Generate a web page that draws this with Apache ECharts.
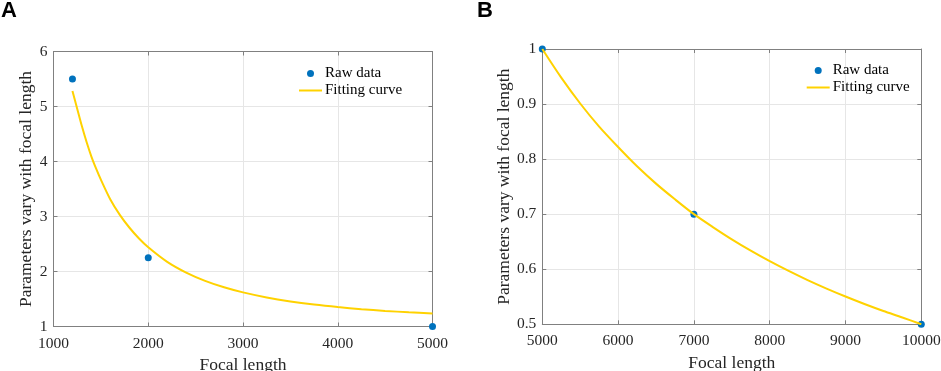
<!DOCTYPE html>
<html>
<head>
<meta charset="utf-8">
<script src="https://cdn.jsdelivr.net/npm/echarts@6/dist/echarts.min.js"></script>
<style>
html, body { margin: 0; padding: 0; background: #fff; }
#chart { width: 941px; height: 371px; }
</style>
</head>
<body>
<div id="chart"></div>
<script>
// panel A
var rawAx = [1200, 2000, 5000];
var rawAy = [5.5, 2.25, 1.0];
var fitAx = [1200, 1250, 1300, 1350, 1400, 1450, 1500, 1600, 1700, 1800, 1900, 2000, 2200, 2400, 2600, 2800, 3000, 3250, 3500, 3750, 4000, 4250, 4500, 4750, 5000];
var fitAy = [5.28, 4.96, 4.64, 4.35, 4.09, 3.87, 3.67, 3.31, 3.03, 2.80, 2.605, 2.44, 2.175, 1.98, 1.83, 1.713, 1.62, 1.528, 1.456, 1.399, 1.353, 1.315, 1.284, 1.258, 1.237];

// panel B
var rawBx = [5000, 7000, 10000];
var rawBy = [1.0, 0.7, 0.5];
var fitBx = [5000, 5250, 5500, 5750, 6000, 6250, 6500, 6750, 7000, 7250, 7500, 7750, 8000, 8250, 8500, 8750, 9000, 9250, 9500, 9750, 10000];
var fitBy = [1.0, 0.948, 0.901, 0.859, 0.822, 0.787, 0.7555, 0.727, 0.700, 0.6766, 0.6543, 0.6337, 0.6146, 0.5969, 0.5803, 0.5649, 0.5505, 0.5369, 0.5242, 0.5124, 0.500];

var xTitle = 'Focal length';
var yTitle = 'Parameters vary with focal length';

function pairs(xs, ys) {
	var out = [];
	for (var i = 0; i < xs.length; i++) {
		out.push([xs[i], ys[i]]);
	}
	return out;
}

var serif = '"Liberation Serif", "Times New Roman", serif';
var boxColor = '#808080';
var textColor = '#262626';
var blue = '#0072BD';
var yellow = '#FFD200';

function xAx(grid, pos, min, max, interval, gap) {
	var main = pos === 'bottom';
	return {
		type: 'value', gridIndex: grid, position: pos,
		min: min, max: max, interval: interval,
		name: main ? xTitle : '', nameLocation: 'middle', nameGap: gap,
		nameTextStyle: { fontFamily: serif, fontSize: 17.5, color: textColor },
		axisLine: { show: true, onZero: false, lineStyle: { color: boxColor, width: 1 } },
		axisTick: { show: true, inside: true, length: 4, lineStyle: { color: boxColor } },
		axisLabel: {
			show: main, margin: 9, fontFamily: serif, fontSize: 15.5, color: textColor,
			formatter: function (v) { return String(v); }
		},
		splitLine: { show: main, lineStyle: { color: '#e6e6e6', width: 1 } }
	};
}

function yAx(grid, pos, min, max, interval, gap) {
	var main = pos === 'left';
	return {
		type: 'value', gridIndex: grid, position: pos,
		min: min, max: max, interval: interval,
		name: main ? yTitle : '', nameLocation: 'middle', nameGap: gap, nameRotate: 90,
		nameTextStyle: { fontFamily: serif, fontSize: 17.5, color: textColor },
		axisLine: { show: true, onZero: false, lineStyle: { color: boxColor, width: 1 } },
		axisTick: { show: true, inside: true, length: 4, lineStyle: { color: boxColor } },
		axisLabel: {
			show: main, margin: 6, fontFamily: serif, fontSize: 15.5, color: textColor,
			formatter: function (v) { return String(Math.round(v * 10) / 10); }
		},
		splitLine: { show: main, lineStyle: { color: '#e6e6e6', width: 1 } }
	};
}

function legendAt(left, top) {
	return {
		left: left, top: top, orient: 'vertical',
		itemWidth: 23, itemHeight: 7, itemGap: 2,
		textStyle: { fontFamily: serif, fontSize: 15, color: '#000', lineHeight: 15, padding: [0, 0, 0, -2] },
		data: [
			{ name: 'Raw data', icon: 'circle' },
			{ name: 'Fitting curve', icon: 'path://M0,3L23,3L23,5L0,5Z' }
		],
		selectedMode: false
	};
}

var option = {
	animation: false,
	grid: [
		{ left: 53.5, top: 51.5, width: 379, height: 275, outerBoundsMode: 'none', containLabel: false },
		{ left: 542.3, top: 49, width: 379, height: 275.3, outerBoundsMode: 'none', containLabel: false }
	],
	xAxis: [
		xAx(0, 'bottom', 1000, 5000, 1000, 25.5),
		xAx(0, 'top', 1000, 5000, 1000, 0),
		xAx(1, 'bottom', 5000, 10000, 1000, 27),
		xAx(1, 'top', 5000, 10000, 1000, 0)
	],
	yAxis: [
		yAx(0, 'left', 1, 6, 1, 18),
		yAx(0, 'right', 1, 6, 1, 0),
		yAx(1, 'left', 0.5, 1, 0.1, 29),
		yAx(1, 'right', 0.5, 1, 0.1, 0)
	],
	legend: [legendAt(294, 61), legendAt(801.7, 58)],
	graphic: [
		{ type: 'text', left: 1, top: 0, style: { text: 'A', font: 'bold 22px "Liberation Sans", Arial, sans-serif', fill: '#000' } },
		{ type: 'text', left: 477, top: 0, style: { text: 'B', font: 'bold 22px "Liberation Sans", Arial, sans-serif', fill: '#000' } }
	],
	series: [
		{
			name: 'Fitting curve', type: 'line', xAxisIndex: 0, yAxisIndex: 0,
			data: pairs(fitAx, fitAy), smooth: 0.3, symbol: 'none',
			lineStyle: { color: yellow, width: 2 }, itemStyle: { color: yellow }, z: 2
		},
		{
			name: 'Raw data', type: 'scatter', xAxisIndex: 0, yAxisIndex: 0,
			data: pairs(rawAx, rawAy), symbolSize: 7,
			itemStyle: { color: blue, opacity: 1 }, z: 3
		},
		{
			name: 'Fitting curve', type: 'line', xAxisIndex: 2, yAxisIndex: 2,
			data: pairs(fitBx, fitBy), smooth: 0.3, symbol: 'none',
			lineStyle: { color: yellow, width: 2 }, itemStyle: { color: yellow }, z: 2
		},
		{
			name: 'Raw data', type: 'scatter', xAxisIndex: 2, yAxisIndex: 2,
			data: pairs(rawBx, rawBy), symbolSize: 7,
			itemStyle: { color: blue, opacity: 1 }, z: 1
		}
	]
};

var myChart = echarts.init(document.getElementById('chart'));
myChart.setOption(option);
</script>
</body>
</html>
